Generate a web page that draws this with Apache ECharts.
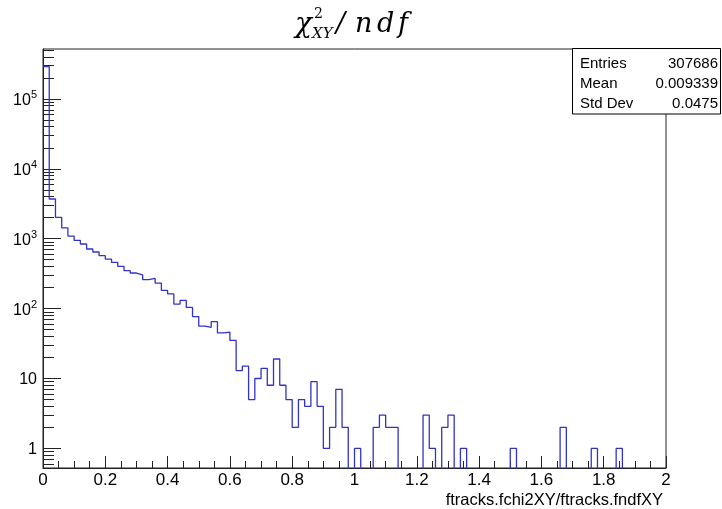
<!DOCTYPE html>
<html>
<head>
<meta charset="utf-8">
<script src="https://cdn.jsdelivr.net/npm/echarts@6/dist/echarts.min.js"></script>
<style>
html,body{margin:0;padding:0;background:#fff;}
#chart{width:722px;height:509px;}
</style>
</head>
<body>
<div id="chart"></div>
<script>
// ---- data ----
var binWidth = 0.02;           // histogram bin width (100 bins over 0..2)
var xMin = 0, xMax = 2;
var counts = [
  291000, 3700, 2020, 1430, 1090, 945, 840, 712, 645, 571,
  512, 458, 402, 349, 323, 303, 259, 270, 232, 182,
  162, 116, 131, 104, 77, 56, 54, 65, 45, 46,
  35, 13, 15, 5, 10, 14, 8, 19, 8, 5,
  2, 5, 4, 9, 4, 1, 2, 7, 2, 0,
  1, 0, 0, 2, 3, 2, 2, 0, 0, 0,
  0, 3, 1, 0, 2, 3, 0, 1, 0, 0,
  0, 0, 0, 0, 0, 1, 0, 0, 0, 0,
  0, 0, 0, 2, 0, 0, 0, 0, 1, 0,
  0, 0, 1, 0, 0, 0, 0, 0, 0, 0
];
var xTickLabels = ['0','0.2','0.4','0.6','0.8','1','1.2','1.4','1.6','1.8','2'];
var yDecades = [0, 1, 2, 3, 4, 5];           // 10^n major ticks
var yRange = [0.524, 5.18e5];                 // visible count range
var statNames = ['Entries', 'Mean', 'Std Dev'];
var statValues = ['307686', '0.009339', '0.0475'];
var xTitle = 'ftracks.fchi2XY/ftracks.fndfXY';

// ---- build ----
var lg = function (v) { return Math.log10(v); };
var yMinL = lg(yRange[0]), yMaxL = lg(yRange[1]);
var FLOOR = yMinL - 1; // empty bins drawn to the frame bottom (clipped)
var stepData = counts.map(function (c, i) {
  return [xMin + i * binWidth, c > 0 ? lg(c) : FLOOR];
});
stepData.push([xMax, counts[counts.length - 1] > 0 ? lg(counts[counts.length - 1]) : FLOOR]);

var minorVals = [];
for (var n = -1; n <= 5; n++) {
  for (var k = 2; k <= 9; k++) {
    var v = lg(k * Math.pow(10, n));
    if (v > yMinL && v < yMaxL) minorVals.push(v);
  }
}

var chart = echarts.init(document.getElementById('chart'), null, {renderer: 'canvas'});
var axisColor = '#222';
var TF = '"DejaVu Serif"';
function glyph(t, x, y, size) {
  return {type: 'text', z: 100, x: x, y: y,
    style: {text: t, font: 'italic ' + size + 'px ' + TF, fill: '#000', verticalAlign: 'middle'}};
}
var option = {
  animation: false,
  backgroundColor: '#fff',
  grid: {left: 43, right: 56, top: 49, bottom: 41, show: true, borderColor: axisColor, borderWidth: 1, backgroundColor: 'transparent'},
  xAxis: {
    type: 'value', min: xMin, max: xMax, interval: 0.2,
    axisLine: {show: true, onZero: false, lineStyle: {color: axisColor, width: 1}},
    axisTick: {show: true, inside: true, length: 12, lineStyle: {color: axisColor}},
    minorTick: {show: true, splitNumber: 4, length: 7, lineStyle: {color: axisColor}},
    splitLine: {show: false},
    axisLabel: {
      margin: 4, fontSize: 17, fontFamily: 'Liberation Sans', color: '#000',
      formatter: function (v) { return xTickLabels[Math.round(v / 0.2)]; }
    }
  },
  yAxis: [{
    type: 'value', min: yMinL, max: yMaxL,
    axisLine: {show: true, onZero: false, lineStyle: {color: axisColor, width: 1}},
    axisTick: {show: true, inside: true, length: 18, customValues: yDecades, lineStyle: {color: axisColor}},
    splitLine: {show: false},
    axisLabel: {
      customValues: yDecades, margin: 6, fontSize: 16, fontFamily: 'Liberation Sans', color: '#000',
      formatter: function (v) {
        var n = Math.round(v);
        if (n === 0) return '{b|1}';
        if (n === 1) return '{b|10}';
        return '{b|10}{sup|' + n + '}';
      },
      rich: {
        b: {fontSize: 16, fontFamily: 'Liberation Sans', color: '#000', padding: [3, 0, 0, 0]},
        sup: {fontSize: 11, fontFamily: 'Liberation Sans', color: '#000', verticalAlign: 'top'}
      }
    }
  }, {
    type: 'value', min: yMinL, max: yMaxL, position: 'left',
    axisLine: {show: false, onZero: false},
    axisTick: {show: true, inside: true, length: 11, customValues: minorVals, lineStyle: {color: axisColor}},
    axisLabel: {show: false},
    splitLine: {show: false}
  }],
  series: [{
    type: 'line', step: 'end', data: stepData, yAxisIndex: 0,
    symbol: 'none', clip: true,
    lineStyle: {color: '#3232c8', width: 1.3}
  }],
  graphic: [
    // title  chi^2_XY / ndf
    glyph('χ', 295, 25, 28),
    {type: 'text', z: 100, x: 314, y: 14.5, style: {text: '2', font: '14px ' + TF, fill: '#000', verticalAlign: 'middle'}},
    glyph('XY', 312, 34.5, 15),
    glyph('/', 336, 25, 27),
    glyph('n', 355, 25, 27),
    glyph('d', 377, 25, 27),
    glyph('f', 398, 25, 27),
    // stats box
    {type: 'rect', z: 100, shape: {x: 572.5, y: 48.5, width: 148, height: 65.5}, style: {fill: '#fff', stroke: '#000', lineWidth: 1}},
    {type: 'text', z: 101, x: 580, y: 63.5, style: {text: statNames[0], font: '15px "Liberation Sans"', fill: '#000', verticalAlign: 'middle'}},
    {type: 'text', z: 101, x: 580, y: 84, style: {text: statNames[1], font: '15px "Liberation Sans"', fill: '#000', verticalAlign: 'middle'}},
    {type: 'text', z: 101, x: 580, y: 103.5, style: {text: statNames[2], font: '15px "Liberation Sans"', fill: '#000', verticalAlign: 'middle'}},
    {type: 'text', z: 101, x: 718, y: 63.5, style: {text: statValues[0], font: '15px "Liberation Sans"', fill: '#000', align: 'right', verticalAlign: 'middle'}},
    {type: 'text', z: 101, x: 718, y: 84, style: {text: statValues[1], font: '15px "Liberation Sans"', fill: '#000', align: 'right', verticalAlign: 'middle'}},
    {type: 'text', z: 101, x: 718, y: 103.5, style: {text: statValues[2], font: '15px "Liberation Sans"', fill: '#000', align: 'right', verticalAlign: 'middle'}},
    // x-axis title
    {type: 'text', z: 100, x: 663, y: 500, style: {text: xTitle, font: '16.5px "Liberation Sans"', fill: '#000', align: 'right', verticalAlign: 'middle'}}
  ]
};
chart.setOption(option);
</script>
</body>
</html>
